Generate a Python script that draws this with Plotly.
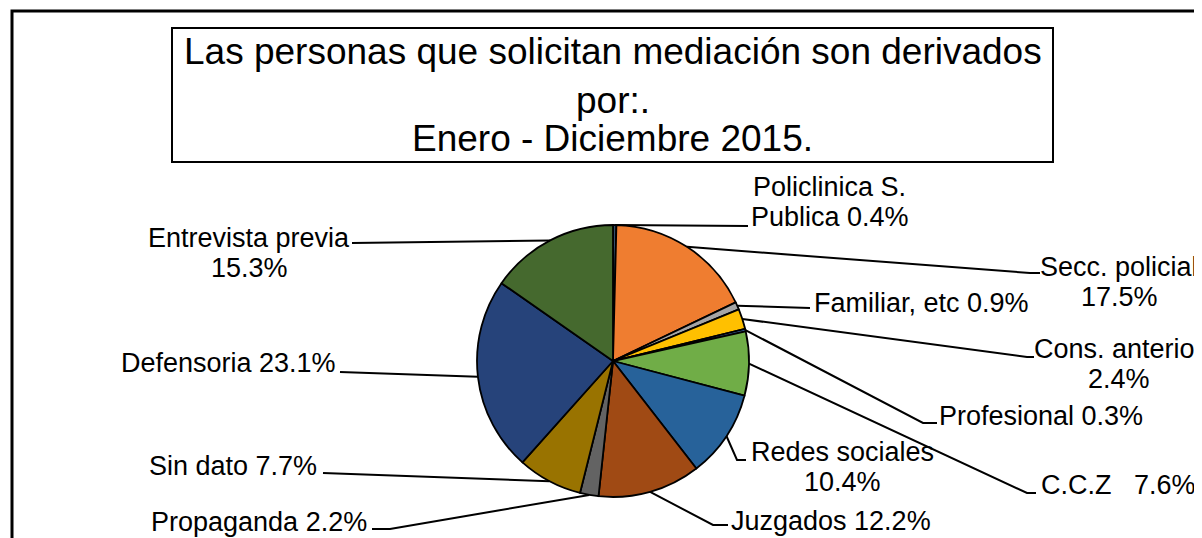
import math
import plotly.graph_objects as go

# ---------------- data ----------------
categories = ["Policlinica S. Publica", "Secc. policial", "Familiar, etc", "Cons. anterior",
              "Profesional", "C.C.Z", "Redes sociales", "Juzgados", "Propaganda",
              "Sin dato", "Defensoria", "Entrevista previa"]
values = [0.4, 17.5, 0.9, 2.4, 0.3, 7.6, 10.4, 12.2, 2.2, 7.7, 23.1, 15.3]
# how each label is written (name / separator before the percentage)
display_names = ["Policlinica S.\nPublica", "Secc. policial", "Familiar, etc", "Cons. anterior",
                 "Profesional", "C.C.Z", "Redes sociales", "Juzgados", "Propaganda",
                 "Sin dato", "Defensoria", "Entrevista previa"]
separators = [" ", "\n", " ", "\n", " ", "\u00a0\u00a0\u00a0", "\n", " ", " ", " ", " ", "\n"]
title_lines = ["Las personas que solicitan mediación son derivados", "por:.", "Enero - Diciembre 2015."]

colors = ["#34506E", "#EF7D30", "#A5A5A5", "#FFC000", "#4472C4", "#70AD47",
          "#27629A", "#A04A14", "#636363", "#997300", "#26437A", "#45692E"]

# ---------------- layout helpers ----------------
W, H = 1202, 538
OFF = 8  # page body margin in the browser
FONT = "Liberation Sans, Arial, sans-serif"


def X(px):
    return (px - OFF) / W


def Y(py):
    return 1 - (py - OFF) / H


CX, CY, R = 613, 361, 136  # pie centre / radius in pixels

# label placement: text x, first line centre y, xanchor, elbow point, end point
label_layout = [
    dict(x=830, y=187, xa="center", elbow=(748, 226), end=(748, 226)),
    dict(x=1119, y=267, xa="center", elbow=(1030, 273), end=(1040, 273)),
    dict(x=812, y=303, xa="left", elbow=(810, 308), end=(810, 308)),
    dict(x=1119, y=349, xa="center", elbow=(1027, 357), end=(1034, 357)),
    dict(x=937, y=416, xa="left", elbow=(923, 423), end=(937, 423)),
    dict(x=1039, y=485, xa="left", elbow=(1027, 493), end=(1036, 493)),
    dict(x=842, y=452, xa="center", elbow=(737, 460), end=(746, 460)),
    dict(x=729, y=521, xa="left", elbow=(713, 525), end=(728, 525)),
    dict(x=369, y=522, xa="right", elbow=(390, 529), end=(372, 529)),
    dict(x=319, y=466, xa="right", elbow=(323, 473), end=(323, 473)),
    dict(x=338, y=363, xa="right", elbow=(340, 372), end=(340, 372)),
    dict(x=249, y=238, xa="center", elbow=(352, 243), end=(352, 243)),
]
LINE_GAP = 30
LABEL_SIZE = 27

fig = go.Figure()

fig.add_trace(go.Pie(
    labels=categories,
    values=values,
    sort=False,
    direction="clockwise",
    rotation=0,
    marker=dict(colors=colors, line=dict(color="#000000", width=1.8)),
    textinfo="none",
    textposition="none",
    hoverinfo="label+percent",
    showlegend=False,
    domain=dict(x=[X(CX - R), X(CX + R)], y=[Y(CY + R), Y(CY - R)]),
))

shapes = []
annotations = []

# outer chart frame (right/bottom edges are outside the picture)
shapes.append(dict(type="path", xref="paper", yref="paper",
                   path=f"M {X(W + 20)} {Y(11)} L {X(12)} {Y(11)} L {X(12)} {Y(H + 20)}",
                   line=dict(color="#000000", width=3)))
# title box
shapes.append(dict(type="rect", xref="paper", yref="paper",
                   x0=X(172), x1=X(1053), y0=Y(162), y1=Y(28),
                   line=dict(color="#000000", width=2), fillcolor="rgba(0,0,0,0)"))

title_y = [51.5, 100.5, 138.5]
for t, ty in zip(title_lines, title_y):
    annotations.append(dict(xref="paper", yref="paper", x=X(612.5), y=Y(ty),
                            xanchor="center", yanchor="middle", showarrow=False,
                            text=t, font=dict(family=FONT, size=37, color="#000000")))

total = sum(values)
cum = 0.0
for name, sep, v, lay in zip(display_names, separators, values, label_layout):
    mid = cum + v / 2
    cum += v
    theta = math.radians(mid / total * 360)
    ex = CX + R * math.sin(theta)
    ey = CY - R * math.cos(theta)
    ebx, eby = lay["elbow"]
    enx, eny = lay["end"]
    shapes.append(dict(type="path", xref="paper", yref="paper",
                       path=f"M {X(ex)} {Y(ey)} L {X(ebx)} {Y(eby)} L {X(enx)} {Y(eny)}",
                       line=dict(color="#000000", width=2)))
    text = f"{name}{sep}{v:.1f}%"
    for k, line in enumerate(text.split("\n")):
        annotations.append(dict(xref="paper", yref="paper", x=X(lay["x"]),
                                y=Y(lay["y"] + k * LINE_GAP),
                                xanchor=lay["xa"], yanchor="middle", showarrow=False,
                                text=line, font=dict(family=FONT, size=LABEL_SIZE, color="#000000")))

fig.update_layout(
    width=W, height=H,
    margin=dict(l=0, r=0, t=0, b=0),
    paper_bgcolor="#FFFFFF",
    plot_bgcolor="#FFFFFF",
    shapes=shapes,
    annotations=annotations,
    showlegend=False,
)

fig.write_html("out.html")
